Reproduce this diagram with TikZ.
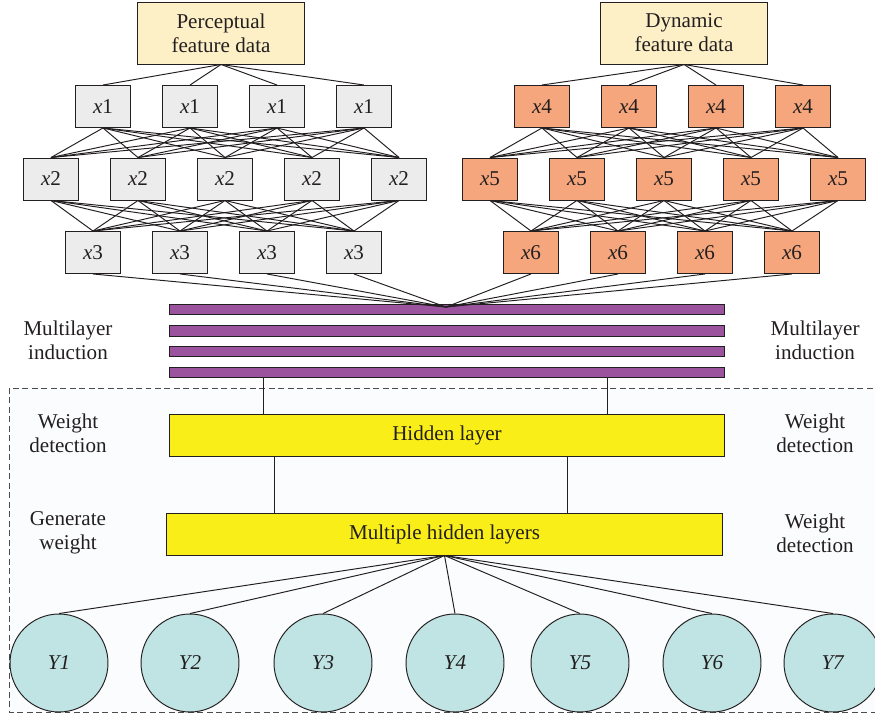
\documentclass[tikz,border=0pt]{standalone}
\usepackage{fontspec}
\setmainfont{Liberation Serif}
\usetikzlibrary{positioning}

\definecolor{ink}{HTML}{231F20}
\definecolor{srcfill}{HTML}{FDF0C6}
\definecolor{greyfill}{HTML}{ECECEC}
\definecolor{orangefill}{HTML}{F6A67C}
\definecolor{barfill}{HTML}{9B539E}
\definecolor{hidfill}{HTML}{F9EE17}
\definecolor{outfill}{HTML}{BFE4E3}
\definecolor{panelfill}{HTML}{FBFCFD}

\begin{document}
\begin{tikzpicture}[x=0.02cm,y=-0.02cm,
    font=\fontsize{12}{13.8}\selectfont, text=ink,
    line width=0.55pt,
    src/.style={draw=ink, fill=srcfill, align=center, minimum width=3.34cm, minimum height=1.24cm, inner sep=0pt},
    unit/.style={draw=ink, minimum width=1.1cm, minimum height=0.84cm, inner sep=0pt},
    greybox/.style={unit, fill=greyfill},
    orangebox/.style={unit, fill=orangefill},
    bar/.style={draw=ink, fill=barfill, minimum width=11.12cm, minimum height=0.21cm, inner sep=0pt},
    layer/.style={draw=ink, fill=hidfill, minimum width=11.12cm, minimum height=0.84cm, inner sep=0pt},
    outnode/.style={circle, draw=ink, fill=outfill, minimum size=1.96cm, inner sep=0pt},
    side/.style={align=center},
    link/.style={draw=ink}]
    \clip (0,0) rectangle (875,716);

    % Dashed panel round the hidden layers and the outputs
    \draw [gray!60!black, fill=panelfill, dash pattern=on 3.4pt off 2pt] (9,388) rectangle (890,712);

    % Source data
    \node [src] (pf) at (221,33) {Perceptual\\feature data};
    \node [src] (df) at (684,33) {Dynamic\\feature data};

    % Perceptual branch: x1, x2, x3
    \foreach \p [count=\k] in {103,190,277,364}
        \node [greybox] (a\k) at (\p,106.5) {\textit{x}1};
    \foreach \p [count=\k] in {51,138,225,312,399}
        \node [greybox] (b\k) at (\p,179) {\textit{x}2};
    \foreach \p [count=\k] in {93,180,267,354}
        \node [greybox] (c\k) at (\p,252.5) {\textit{x}3};

    % Dynamic branch: x4, x5, x6
    \foreach \p [count=\k] in {542,629,716,803}
        \node [orangebox] (d\k) at (\p,106.5) {\textit{x}4};
    \foreach \p [count=\k] in {490,577,664,751,838}
        \node [orangebox] (e\k) at (\p,179) {\textit{x}5};
    \foreach \p [count=\k] in {531,618,705,792}
        \node [orangebox] (f\k) at (\p,252.5) {\textit{x}6};

    % Fully connected links
    \foreach \i in {1,...,4}{%
        \draw [link] (pf.south) -- (a\i.north);
        \draw [link] (df.south) -- (d\i.north);
        \foreach \j in {1,...,5}{%
            \draw [link] (a\i.south) -- (b\j.north);
            \draw [link] (d\i.south) -- (e\j.north);
            \draw [link] (b\j.south) -- (c\i.north);
            \draw [link] (e\j.south) -- (f\i.north);
        }
    }

    % Multilayer induction bars
    \foreach \q [count=\k] in {309.5,331,351.5,372.5}
        \node [bar] (bar\k) at (447,\q) {};

    \coordinate (merge) at (446,307);
    \foreach \i in {1,...,4}{%
        \draw [link] (c\i.south) -- (merge);
        \draw [link] (f\i.south) -- (merge);
    }

    % Hidden layers
    \node [layer] (hid) at (447,435) {Hidden layer};
    \node [layer] (mhid) at (444.5,534) {Multiple hidden layers};

    \coordinate (la) at (263,0);
    \coordinate (lb) at (607,0);
    \coordinate (lc) at (274,0);
    \coordinate (ld) at (567,0);
    \draw [link] (bar4.south -| la) -- (hid.north -| la);
    \draw [link] (bar4.south -| lb) -- (hid.north -| lb);
    \draw [link] (hid.south -| lc) -- (mhid.north -| lc);
    \draw [link] (hid.south -| ld) -- (mhid.north -| ld);

    % Outputs
    \foreach \p [count=\k] in {59,190,323,455,580,712,833}{%
        \node [outnode] (y\k) at (\p,663) {\textit{Y\k}};
        \draw [link] (mhid.south) -- (y\k.north);
    }

    % Side labels
    \node [side] (mil) at (68,340) {Multilayer\\induction};
    \node [side] (mir) at (815,340) {Multilayer\\induction};
    \node [side] (wdl) at (68,433) {Weight\\detection};
    \node [side] (wdr) at (815,433) {Weight\\detection};
    \node [side] (gwl) at (68,533) {Generate\\weight};
    \node [side] (wdr2) at (815,533) {Weight\\detection};
\end{tikzpicture}
\end{document}
